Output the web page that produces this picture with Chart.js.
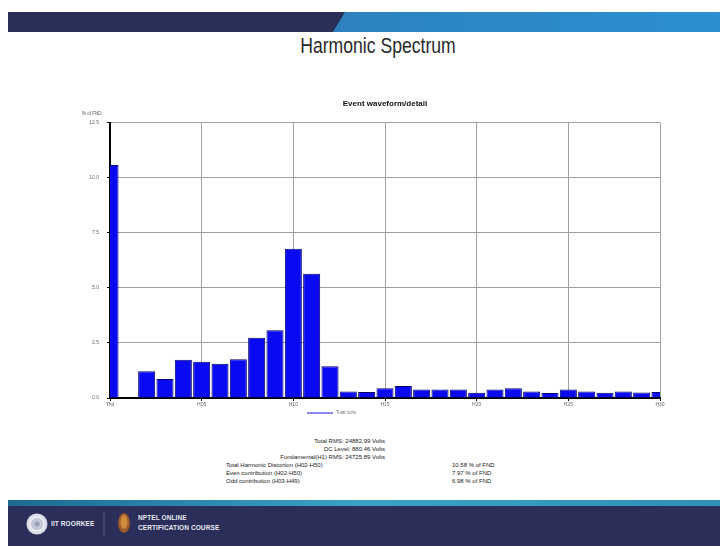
<!DOCTYPE html>
<html>
<head>
<meta charset="utf-8">
<script src="https://cdn.jsdelivr.net/npm/chart.js@4/dist/chart.umd.min.js"></script>
<style>
  html, body { margin:0; padding:0; background:#fff; }
  body { width:720px; height:546px; position:relative; overflow:hidden; font-family:"Liberation Sans", Arial, sans-serif; }
  .abs { position:absolute; }
  #topDark { left:8px; top:12px; width:712px; height:20px; background:#2a2f57; }
  #topLight { left:8px; top:12px; width:712px; height:20px;
    background:linear-gradient(90deg,#2d6fa8 0%,#2c86c4 60%,#2b8fd0 100%);
    clip-path:polygon(337px 0,712px 0,712px 20px,325px 20px); }
  #slideTitle { left:178px; width:400px; top:33px; text-align:center; font-family:"Liberation Sans", Arial, sans-serif; font-size:22px; color:#2a2a2a; transform:scaleX(0.8); transform-origin:200px 0; }
  #chartBox { left:0; top:90px; width:720px; height:340px; }
  .info { font-size:6px; color:#222; white-space:nowrap; line-height:8px; }
  #botStripe { left:8px; top:500px; width:712px; height:6px; background:linear-gradient(90deg,#1d6a90,#3aa3c4 50%,#2f8fb8); }
  #botBand { left:8px; top:506px; width:712px; height:40px; background:#2a2e58; }
  .logoTxt { color:#e8e8f0; font-weight:bold; font-size:6.5px; white-space:nowrap; letter-spacing:0.1px; }
</style>
</head>
<body>
<script>
// ---- data ----
const categories = ['Thd','H01','H02','H03','H04','H05','H06','H07','H08','H09','H10',
  'H11','H12','H13','H14','H15','H16','H17','H18','H19','H20',
  'H21','H22','H23','H24','H25','H26','H27','H28','H29','H30'];
const percentOfFnd = [10.57, 0, 1.21, 0.86, 1.74, 1.64, 1.55, 1.76, 2.73, 3.07, 6.77,
  5.64, 1.44, 0.30, 0.27, 0.44, 0.55, 0.39, 0.39, 0.39, 0.24,
  0.39, 0.44, 0.29, 0.23, 0.39, 0.29, 0.24, 0.30, 0.25, 0.27];
const xTickLabels = ['Thd','H05','H10','H15','H20','H25','H30'];
const yTickLabels = ['0.0','2.5','5.0','7.5','10.0','12.5'];
const seriesName = 'Total volts';
const chartTitle = 'Event waveform/detail';
const yAxisTitle = '% of FND';
const summaryRight = ['Total RMS: 24882.99 Volts','DC Level: 880.46 Volts','Fundamental(H1) RMS: 24725.89 Volts'];
const summaryLabels = ['Total Harmonic Distortion (H02-H50)','Even contribution (H02-H50)','Odd contribution (H03-H49)'];
const summaryValues = ['10.58 % of FND','7.97 % of FND','6.98 % of FND'];
</script>

<div id="topDark" class="abs"></div>
<div id="topLight" class="abs"></div>
<div id="slideTitle" class="abs">Harmonic Spectrum</div>

<div id="chartBox" class="abs"><canvas id="c" width="720" height="340"></canvas></div>

<div id="info"></div>

<div id="botStripe" class="abs"></div>
<div id="botBand" class="abs"></div>
<svg class="abs" style="left:0;top:500px" width="200" height="46">
  <circle cx="37" cy="24" r="10.5" fill="#d9dbe6"/>
  <circle cx="37" cy="24" r="7" fill="#c4c7d6" stroke="#eef0f6" stroke-width="1.5"/>
  <circle cx="37" cy="24" r="2.5" fill="#9aa0b8"/>
  <line x1="104" y1="13" x2="104" y2="36" stroke="#5c6188" stroke-width="1"/>
  <ellipse cx="124" cy="23" rx="6" ry="10" fill="#9b5a2a"/>
  <ellipse cx="124" cy="22" rx="3.5" ry="7" fill="#d08a3c"/>
</svg>
<div class="abs logoTxt" style="left:51px;top:520px;">IIT ROORKEE</div>
<div class="abs logoTxt" style="left:138px;top:514px;">NPTEL ONLINE</div>
<div class="abs logoTxt" style="left:138px;top:524px;">CERTIFICATION COURSE</div>

<script>
// summary text block
(function(){
  const info = document.getElementById('info');
  summaryRight.forEach((t,i)=>{
    const d=document.createElement('div'); d.className='abs info';
    d.style.right=(720-385)+'px'; d.style.top=(437+i*8)+'px'; d.style.textAlign='right';
    d.textContent=t; info.appendChild(d);
  });
  summaryLabels.forEach((t,i)=>{
    const d=document.createElement('div'); d.className='abs info';
    d.style.left='226px'; d.style.top=(461+i*8)+'px'; d.textContent=t; info.appendChild(d);
    const v=document.createElement('div'); v.className='abs info';
    v.style.left='452px'; v.style.top=(461+i*8)+'px'; v.textContent=summaryValues[i]; info.appendChild(v);
  });
})();

const extras = {
  id:'extras',
  afterDraw(chart){
    const {ctx, chartArea:a} = chart;
    ctx.save();
    // y axis title
    ctx.fillStyle='#555'; ctx.font='4.5px "Liberation Sans", Arial';
    ctx.textAlign='left'; ctx.textBaseline='middle';
    ctx.fillText(yAxisTitle, a.left-28, a.top-9);
    // legend
    const ly = a.bottom + 15;
    const lx = a.left + 197;
    ctx.strokeStyle='#6464e6'; ctx.lineWidth=1.5;
    ctx.beginPath(); ctx.moveTo(lx, ly); ctx.lineTo(lx+26, ly); ctx.stroke();
    ctx.fillStyle='#777'; ctx.font='4.5px "Liberation Sans", Arial';
    ctx.fillText(chart.data.datasets[0].label, lx+29, ly);
    ctx.restore();
  }
};

new Chart(document.getElementById('c'), {
  type:'bar',
  data:{
    labels:categories,
    datasets:[{
      label:seriesName,
      data:percentOfFnd,
      backgroundColor:'#0a0af2',
      borderColor:'#00006e',
      borderWidth:1,
      barPercentage:0.93,
      categoryPercentage:1.0,
      clip:0
    }]
  },
  options:{
    responsive:false,
    animation:false,
    devicePixelRatio:1,
    layout:{ padding:{ left:80, right:60, top:0, bottom:22 } },
    plugins:{
      legend:{ display:false },
      tooltip:{ enabled:false },
      title:{
        display:true, text:chartTitle, fullSize:false,
        color:'#111', font:{ family:'"Liberation Sans", Arial', size:8, weight:'bold' },
        padding:{ top:9, bottom:14 }
      }
    },
    scales:{
      x:{
        offset:false,
        grid:{
          offset:false,
          color:(c)=> (c.index % 5 === 0 ? '#a0a0a0' : 'rgba(0,0,0,0)'),
          tickColor:(c)=> (c.index % 5 === 0 ? '#000' : 'rgba(0,0,0,0)'),
          tickLength:3, lineWidth:1
        },
        border:{ color:'#000', width:2 },
        ticks:{
          autoSkip:false, maxRotation:0, padding:1,
          color:'#666', font:{ family:'"Liberation Sans", Arial', size:5 },
          callback:(v,i)=> (xTickLabels.includes(categories[i]) ? categories[i] : '')
        },
        afterFit:(s)=>{ s.height = 10; }
      },
      y:{
        min:0, max:12.5,
        grid:{ color:'#a0a0a0', lineWidth:1, tickColor:'#000', tickLength:3 },
        border:{ color:'#000', width:2 },
        ticks:{
          stepSize:2.5, padding:8,
          color:'#666', font:{ family:'"Liberation Sans", Arial', size:5 },
          callback:(v,i)=> yTickLabels[i]
        },
        afterFit:(s)=>{ s.width = 30; }
      }
    }
  },
  plugins:[extras]
});
</script>
</body>
</html>
